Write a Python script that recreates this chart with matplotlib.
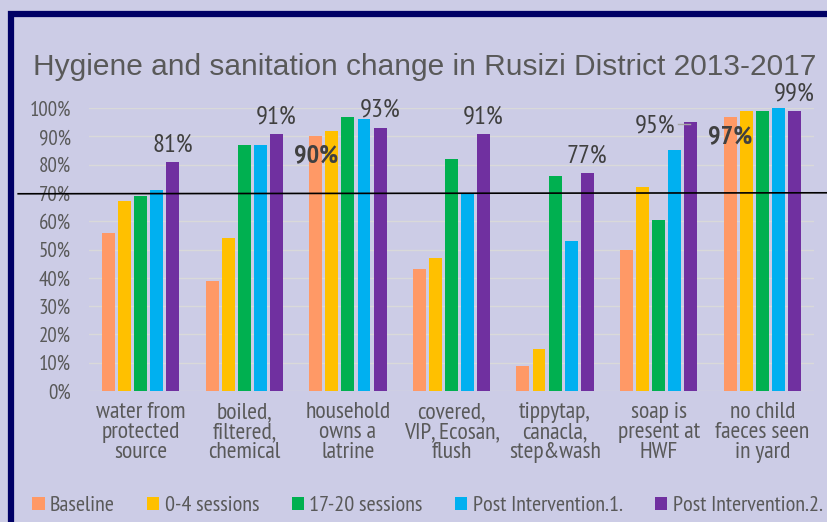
import numpy as np
import matplotlib
matplotlib.use("Agg")
import matplotlib.pyplot as plt
from matplotlib.patches import Rectangle
from matplotlib.lines import Line2D

categories = ["water from\nprotected\nsource", "boiled,\nfiltered,\nchemical",
              "household\nowns a\nlatrine", "covered,\nVIP, Ecosan,\nflush",
              "tippytap,\ncanacla,\nstep&wash", "soap is\npresent at\nHWF",
              "no child\nfaeces seen\nin yard"]
series_names = ["Baseline", "0-4 sessions", "17-20 sessions",
                "Post Intervention.1.", "Post Intervention.2."]
baseline = [56, 39, 90, 43, 9, 50, 97]
sess_0_4 = [67, 54, 92, 47, 15, 72, 99]
sess_17_20 = [69, 87, 97, 82, 76, 60.5, 99]
post_1 = [71, 87, 96, 70, 53, 85, 100]
post_2 = [81, 91, 93, 91, 77, 95, 99]
yticks = list(range(0, 101, 10))
threshold = 70

colors = ["#FF9966", "#FFC000", "#00B050", "#00B0F0", "#7030A0"]
bg = "#CCCCE6"
narrow = ["PT Sans Narrow", "Roboto Condensed", "Archivo Narrow", "DejaVu Sans"]

fig = plt.figure(figsize=(8.27, 5.22), dpi=100, facecolor=bg)
ax = fig.add_axes([0.1076, 0.251, 0.8767, 0.542])
ax.set_facecolor(bg)

x = np.arange(len(categories))
slot, width = 0.155, 0.125
all_series = [baseline, sess_0_4, sess_17_20, post_1, post_2]
for j, vals in enumerate(all_series):
    ax.bar(x + (j - 2) * slot, vals, width, color=colors[j], label=series_names[j], zorder=3)

ax.set_xlim(-0.5, len(categories) - 0.5)
ax.set_ylim(0, 100)
ax.set_yticks(yticks)
ax.set_yticklabels([f"{t}%" for t in yticks], family=narrow, fontsize=15, color="#595959")
ax.set_xticks(x)
ax.set_xticklabels(categories, family=narrow, fontsize=17, color="#595959", linespacing=0.95)
ax.tick_params(length=0, axis="y", pad=13)
ax.tick_params(length=0, axis="x", pad=8)
ax.grid(axis="y", color="#D9D9D9", linewidth=1, zorder=0)
for s in ax.spines.values():
    s.set_visible(False)

# data labels
lab = dict(family=narrow, fontsize=19, color="#404040", ha="center", va="center", clip_on=False)
ax.text(x[0] + 2 * slot, post_2[0] + 6, f"{post_2[0]}%", **lab)
ax.text(x[1] + 2 * slot, post_2[1] + 6, f"{post_2[1]}%", **lab)
ax.text(x[2] + 2 * slot, post_2[2] + 6.3, f"{post_2[2]}%", **lab)
ax.text(x[2] - 2 * slot, baseline[2] - 7, f"{baseline[2]}%", fontweight="bold", **lab)
ax.text(x[3] + 2 * slot, post_2[3] + 6, f"{post_2[3]}%", **lab)
ax.text(x[4] + 2 * slot, post_2[4] + 6, f"{post_2[4]}%", **lab)
ax.text(x[5] + 2 * slot - 0.34, post_2[5] - 1.4, f"{post_2[5]}%", **lab)
ax.plot([x[5] + 2 * slot - 0.12, x[5] + 2 * slot - 0.01], [post_2[5] - 0.6] * 2,
        color="#A6A6A6", linewidth=1, zorder=4)
ax.text(x[6] - 2 * slot, baseline[6] - 7, f"{baseline[6]}%", fontweight="bold", **lab)
ax.text(x[6] + 2 * slot, post_2[6] + 6, f"{post_2[6]}%", **lab)

# threshold line across figure
trans = matplotlib.transforms.blended_transform_factory(fig.transFigure, ax.transData)
ax.add_line(Line2D([0.022, 1.0], [threshold - 0.3, threshold + 0.05], transform=trans,
                   color="black", linewidth=1.2, zorder=5, clip_on=False))

fig.text(0.513, 0.871, "Hygiene and sanitation change in Rusizi District 2013-2017",
         family=["Liberation Sans", "DejaVu Sans"], fontsize=21.5, color="#595959",
         ha="center", va="center")

# navy frame
fig.patches.append(Rectangle((0.0133, -0.2), 1.2, 1.2 - 0.0268, transform=fig.transFigure,
                             fill=False, edgecolor="#000066", linewidth=4.5))

leg = fig.legend(loc="center", bbox_to_anchor=(0.517, 0.031), ncol=5, frameon=False,
                 prop={"family": narrow, "size": 16}, handlelength=0.55, handleheight=0.55,
                 handletextpad=0.25, columnspacing=1.45, labelcolor="#595959")

fig.savefig("out.png", dpi=100, facecolor=bg)
